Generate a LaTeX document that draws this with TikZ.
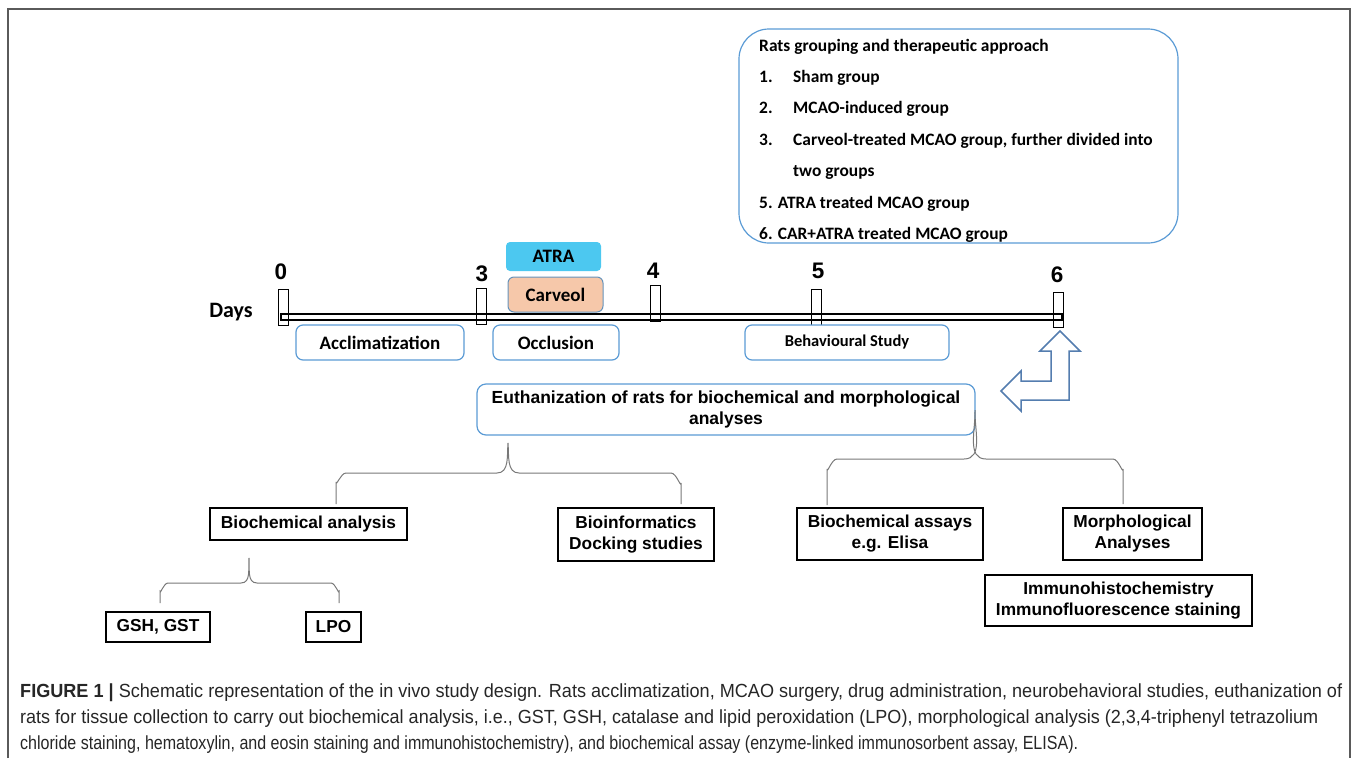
\documentclass[tikz,border=0pt]{standalone}
\usepackage{fontspec}
\usepackage{graphicx}
\setmainfont{Liberation Sans}
\newfontfamily\calib{Carlito}
\newfontfamily\arial{Liberation Sans}
\definecolor{boxblue}{RGB}{91,155,213}
\definecolor{arrblue}{RGB}{84,125,175}
\definecolor{atrafill}{RGB}{76,200,240}
\definecolor{carfill}{RGB}{246,200,170}
\definecolor{framegray}{RGB}{90,90,90}
\definecolor{bracegray}{RGB}{120,120,120}
\tikzset{
  blubox/.style={draw=boxblue, line width=1.2pt, rounded corners=7pt, fill=white, inner sep=0pt,
    font=\calib\bfseries\fontsize{19}{22}\selectfont},
  blkbox/.style={draw=black, line width=1.6pt, fill=white, inner sep=0pt, align=center,
    font=\arial\bfseries\fontsize{17.3}{21}\selectfont},
  tickbox/.style={draw=black, line width=1pt, minimum width=10pt, inner sep=0pt},
  daynum/.style={font=\arial\bfseries\fontsize{22.5}{24}\selectfont, inner sep=0pt},
  bracel/.style={draw=bracegray, line width=1pt},
  ratstxt/.style={anchor=base west, inner sep=0pt, font=\calib\bfseries\fontsize{17.4}{20}\selectfont},
  capt/.style={anchor=base west, inner sep=0pt, text=black!85, font=\arial\fontsize{19}{22}\selectfont}
}
\begin{document}
\begin{tikzpicture}[x=1pt,y=-1pt]
\useasboundingbox (0,0) rectangle (1360,758);
% frame
\draw[framegray, line width=2pt] (8,758) -- (8,9) -- (1350,9) -- (1350,758);

% rats grouping box
\draw[boxblue, line width=1.2pt, rounded corners=30pt] (739,29) rectangle (1178,243);
\node[ratstxt] (r0) at (759,51) {Rats grouping and therapeutic approach};
\node[ratstxt] (r1n) at (759,82) {1.};
\node[ratstxt] (r1) at (793,82) {Sham group};
\node[ratstxt] (r2n) at (759,113) {2.};
\node[ratstxt] (r2) at (793,113) {MCAO-induced group};
\node[ratstxt] (r3n) at (759,145) {3.};
\node[ratstxt] (r3) at (793,145) {Carveol-treated MCAO group, further divided into};
\node[ratstxt] (r3b) at (793,176) {two groups};
\node[ratstxt] (r5) at (759,208) {5. ATRA treated MCAO group};
\node[ratstxt] (r6) at (759,239) {6. CAR+ATRA treated MCAO group};

% timeline
\node[font=\calib\bfseries\fontsize{22}{24}\selectfont, inner sep=0pt] (days) at (231,312) {Days};
\draw[black, line width=1.1pt] (281,314) rectangle (1062,320);
\node[tickbox, minimum height=36pt] (d0) at (283,307) {};
\node[tickbox, minimum height=36pt] (d3) at (481.5,306) {};
\node[tickbox, minimum height=36pt] (d4) at (655.5,303) {};
\node[tickbox, minimum height=37pt] (d5) at (816.5,307.5) {};
\node[tickbox, minimum height=35pt] (d6) at (1058.5,309.5) {};
\node[daynum] (n0) at (281,272) {0};
\node[daynum] (n3) at (482,274) {3};
\node[daynum] (n4) at (653,271) {4};
\node[daynum] (n5) at (818,271) {5};
\node[daynum] (n6) at (1057,275) {6};

\node[draw=none, fill=atrafill, rounded corners=4pt, minimum width=95pt, minimum height=29pt, inner sep=0pt,
  font=\calib\bfseries\fontsize{19}{22}\selectfont] (atra) at (553.5,256.5) {ATRA};
\node[draw=boxblue!70!gray, line width=1pt, fill=carfill, rounded corners=6pt, minimum width=95pt, minimum height=35pt, inner sep=0pt,
  font=\calib\bfseries\fontsize{19}{22}\selectfont] (carv) at (555.5,294.5) {Carveol};

\node[blubox, minimum width=168pt, minimum height=35pt] (accl) at (380,342.5) {Acclimatization};
\node[blubox, minimum width=126pt, minimum height=35pt] (occl) at (556,342.5) {Occlusion};
\node[blubox, minimum width=204pt, minimum height=35pt, font=\calib\bfseries\fontsize{16.5}{20}\selectfont] (behav) at (847,342.5) {Behavioural Study};

% bent arrow
\draw[arrblue, line width=1.5pt, fill=white, line join=miter]
  (1060,331) -- (1080,351) -- (1069,351) -- (1069,400) -- (1021,400) -- (1021,411)
  -- (1001,391) -- (1021,371) -- (1021,381) -- (1051,381) -- (1051,351) -- (1040,351) -- cycle;

% euthanization
\node[blubox, rounded corners=9pt, minimum width=498pt, minimum height=51pt, align=center,
  font=\arial\bfseries\fontsize{17.5}{21}\selectfont] (euth) at (726,409.5)
  {Euthanization of rats for biochemical and morphological\\analyses};

% bottom boxes
\node[blkbox, minimum width=197pt, minimum height=32pt] (bio) at (308.5,524) {Biochemical analysis};
\node[blkbox, minimum width=156pt, minimum height=53pt] (binf) at (636,534.5) {Bioinformatics\\Docking studies};
\node[blkbox, minimum width=186pt, minimum height=52pt] (assay) at (890,534) {Biochemical assays\\e.g. Elisa};
\node[blkbox, minimum width=139pt, minimum height=52pt] (morph) at (1132.5,534) {Morphological\\Analyses};
\node[blkbox, minimum width=267pt, minimum height=51pt] (immu) at (1118.5,600.5) {Immunohistochemistry\\Immunofluorescence staining};
\node[blkbox, minimum width=104pt, minimum height=30pt] (gsh) at (158,627) {GSH, GST};
\node[blkbox, minimum width=55pt, minimum height=30pt] (lpo) at (333.5,627) {LPO};

% braces
\coordinate (bl1) at (336,504);
\coordinate (bl2) at (681,504);
\coordinate (bltip) at (508,443);
\draw[bracel] (bl1) -- (336,482) to[out=-90,in=180] (346,473) -- (497,473)
  to[out=0,in=-95] (bltip) to[out=-85,in=180] (519,473) -- (671,473) to[out=0,in=-90] (681,483) -- (bl2);
\coordinate (br1) at (827,505);
\coordinate (br2) at (1123,504);
\coordinate (brtip) at (975,410);
\draw[bracel] (br1) -- (827,469) to[out=-90,in=180] (837,459) -- (964,459)
  to[out=0,in=-92] (brtip) to[out=-88,in=180] (986,459) -- (1113,459) to[out=0,in=-90] (1123,469) -- (br2);
\coordinate (bs1) at (160,603);
\coordinate (bs2) at (339,603);
\coordinate (bstip) at (249,558);
\draw[bracel] (bs1) -- (160,591) to[out=-90,in=180] (168,583) -- (241,583)
  to[out=0,in=-95] (bstip) to[out=-85,in=180] (257,583) -- (331,583) to[out=0,in=-90] (339,591) -- (bs2);

% caption
\node[capt] (c1) at (20,697) {\resizebox{1322pt}{\height}{\textbf{FIGURE 1 |} Schematic representation of the in vivo study design. Rats acclimatization, MCAO surgery, drug administration, neurobehavioral studies, euthanization of}};
\node[capt] (c2) at (20,723) {\resizebox{1298pt}{\height}{rats for tissue collection to carry out biochemical analysis, i.e., GST, GSH, catalase and lipid peroxidation (LPO), morphological analysis (2,3,4-triphenyl tetrazolium}};
\node[capt] (c3) at (20,749) {\resizebox{1058pt}{\height}{chloride staining, hematoxylin, and eosin staining and immunohistochemistry), and biochemical assay (enzyme-linked immunosorbent assay, ELISA).}};
\end{tikzpicture}
\end{document}
